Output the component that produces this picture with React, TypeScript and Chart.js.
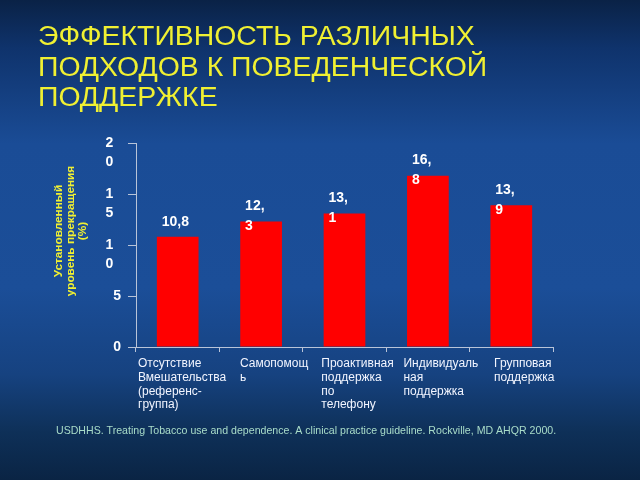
import React, { useEffect, useRef } from "react";
import { Chart, registerables } from "chart.js";

Chart.register(...registerables);

// ---- data ----
const titleLines = ["ЭФФЕКТИВНОСТЬ РАЗЛИЧНЫХ", "ПОДХОДОВ К ПОВЕДЕНЧЕСКОЙ", "ПОДДЕРЖКЕ"];
const categories = [
  ["Отсутствие", "Вмешательства", "(референс-", "группа)"],
  ["Самопомощ", "ь"],
  ["Проактивная", "поддержка", "по", "телефону"],
  ["Индивидуаль", "ная", "поддержка"],
  ["Групповая", "поддержка"],
];
const values = [10.8, 12.3, 13.1, 16.8, 13.9];
const valueLabels = [["10,8"], ["12,", "3"], ["13,", "1"], ["16,", "8"], ["13,", "9"]];
const yMin = 0;
const yMax = 20;
const yStep = 5;
const yTitleLines = ["Установленный", "уровень прекращения", "(%)"];
const sourceText =
  "USDHHS. Treating Tobacco use and dependence. A clinical practice guideline. Rockville, MD AHQR 2000.";

// ---- styles ----
const FONT = "'Liberation Sans', Arial, sans-serif";
const AXIS = "#b9c4d8";
const YELLOW = "#f0f032";
const BAR = "#ff0000";

const decorPlugin = {
  id: "decor",
  beforeDraw(chart: any) {
    const { ctx, width, height } = chart;
    ctx.save();
    const g = ctx.createLinearGradient(0, 0, 0, height);
    g.addColorStop(0, "#0a2246");
    g.addColorStop(0.1, "#0f336c");
    g.addColorStop(0.3, "#1a4c96");
    g.addColorStop(0.6, "#1b4e98");
    g.addColorStop(0.78, "#164280");
    g.addColorStop(0.9, "#0e3058");
    g.addColorStop(1, "#0a2444");
    ctx.fillStyle = g;
    ctx.fillRect(0, 0, width, height);
    ctx.restore();
  },
  afterDraw(chart: any) {
    const { ctx } = chart;
    const xs = chart.scales.x;
    ctx.save();
    // title
    ctx.fillStyle = YELLOW;
    ctx.font = `28.4px ${FONT}`;
    ctx.textAlign = "left";
    ctx.textBaseline = "middle";
    titleLines.forEach((t, i) => ctx.fillText(t, 38, 37 + i * 30.8));

    // y title (rotated)
    ctx.save();
    ctx.translate(71, 231);
    ctx.rotate(-Math.PI / 2);
    ctx.font = `bold 11.8px ${FONT}`;
    ctx.fillStyle = YELLOW;
    ctx.textAlign = "center";
    ctx.textBaseline = "middle";
    yTitleLines.forEach((t, i) => ctx.fillText(t, 0, (i - 1) * 12));
    ctx.restore();

    // x category labels
    ctx.font = `12px ${FONT}`;
    ctx.fillStyle = "#f2f5ff";
    ctx.textAlign = "left";
    ctx.textBaseline = "middle";
    const catW = (xs.right - xs.left) / categories.length;
    categories.forEach((lines, i) => {
      const c = xs.getPixelForValue(i);
      const w = Math.max(...lines.map((l) => ctx.measureText(l).width));
      const left = w > catW ? c - catW / 2 + 2 : c + 13 - w / 2;
      lines.forEach((l, k) => ctx.fillText(l, left, xs.bottom - 116 + k * 13.7));
    });

    // source
    ctx.font = `10.6px ${FONT}`;
    ctx.fillStyle = "#a9dcc9";
    ctx.fillText(sourceText, 56, 431);
    ctx.restore();
  },
  afterDatasetsDraw(chart: any) {
    const { ctx } = chart;
    const meta = chart.getDatasetMeta(0);
    ctx.save();
    ctx.font = `bold 14px ${FONT}`;
    ctx.fillStyle = "#ffffff";
    ctx.textAlign = "left";
    ctx.textBaseline = "middle";
    meta.data.forEach((bar: any, i: number) => {
      valueLabels[i].forEach((t, k) => ctx.fillText(t, bar.x - 16, bar.y - 15 + k * 19.5));
    });
    ctx.restore();
  },
};

export default function App() {
  const ref = useRef<HTMLCanvasElement>(null);
  useEffect(() => {
    if (!ref.current) return;
    const chart = new Chart(ref.current, {
      type: "bar",
      data: {
        labels: categories,
        datasets: [
          {
            data: values,
            backgroundColor: BAR,
            borderWidth: 0,
            barPercentage: 0.5,
            categoryPercentage: 1,
          },
        ],
      },
      options: {
        responsive: false,
        animation: false,
        layout: { padding: { left: 0, top: 143, right: 87, bottom: 0 } },
        plugins: {
          legend: { display: false },
          tooltip: { enabled: false },
          title: { display: false },
        },
        scales: {
          x: {
            grid: { drawOnChartArea: false, drawTicks: true, tickLength: 5, color: AXIS, offset: true },
            border: { color: AXIS, width: 1 },
            ticks: { display: false },
            afterFit: (s: any) => {
              s.height = 133;
            },
          },
          y: {
            min: yMin,
            max: yMax,
            grid: { drawOnChartArea: false, drawTicks: true, tickLength: 8, color: AXIS },
            border: { color: AXIS, width: 1 },
            ticks: {
              stepSize: yStep,
              autoSkip: false,
              color: "#ffffff",
              padding: 7,
              font: { family: FONT, size: 14, weight: "bold", lineHeight: 1.35 },
              callback: (v: any) => {
                const s = String(v);
                if (s.length < 2) return s;
                return ["", ...s.split("").map((d) => d + "\u2007")];
              },
            },
            afterFit: (s: any) => {
              s.width = 136;
            },
          },
        },
      },
      plugins: [decorPlugin],
    });
    return () => chart.destroy();
  }, []);
  return (
    <div style={{ position: "absolute", left: 0, top: 0, width: 640, height: 480 }}>
      <canvas ref={ref} width={640} height={480} style={{ display: "block" }} />
    </div>
  );
}
